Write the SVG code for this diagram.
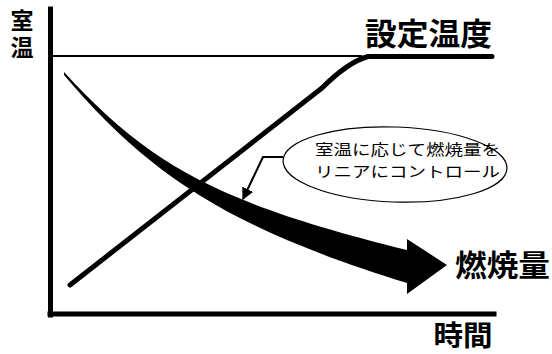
<svg xmlns="http://www.w3.org/2000/svg" width="552" height="354" viewBox="0 0 552 354">
<style>
.lbl{font-family:"Noto Sans CJK JP","Noto Sans CJK SC",sans-serif;font-weight:bold;fill:#000}
.note{font-family:"Noto Sans CJK JP","Noto Sans CJK SC",sans-serif;font-weight:normal;fill:#000;font-size:14.8px}
.ax{stroke:#000;fill:none;stroke-linecap:square}
</style>
<defs>
<marker id="ah" viewBox="0 0 10 10" refX="9" refY="5" markerWidth="6" markerHeight="6" orient="auto" markerUnits="strokeWidth">
<path d="M0,0 L10,5 L0,10 z" fill="#000"/>
</marker>
</defs>
<rect width="552" height="354" fill="#fff"/>
<g id="axes">
<line class="ax" x1="50.5" y1="9" x2="50.5" y2="315" stroke-width="5"/>
<line class="ax" x1="50" y1="314" x2="494" y2="314" stroke-width="5"/>
<text class="lbl" x="22" y="9" font-size="23" writing-mode="vertical-rl" letter-spacing="4">室温</text>
<text class="lbl" x="463" y="346" font-size="28" text-anchor="middle" textLength="59" lengthAdjust="spacingAndGlyphs">時間</text>
</g>
<g id="setpoint">
<line x1="52" y1="56" x2="362" y2="56" stroke="#000" stroke-width="1.8"/>
<text class="lbl" x="365" y="45" font-size="31" textLength="127" lengthAdjust="spacingAndGlyphs">設定温度</text>
</g>
<g id="room-temp">
<path d="M70,285 L322,88 Q348,62 368,56.5 L492,56.5" fill="none" stroke="#000" stroke-width="5" stroke-linecap="round" stroke-linejoin="round"/>
</g>
<g id="combustion">
<path d="M64,72 C151,167 219,203 407,250 L407,239 L447,265 L407,294 L407,283 C228,228 148,174 64,75 Z" fill="#000"/>
<text class="lbl" x="455" y="276" font-size="30" textLength="95" lengthAdjust="spacingAndGlyphs">燃焼量</text>
</g>
<g id="callout">
<ellipse cx="395" cy="164.5" rx="112" ry="37.5" fill="#fff" stroke="#000" stroke-width="1.2" transform="rotate(2 395 164.5)"/>
<text class="note" x="315" y="154.5" textLength="185" lengthAdjust="spacingAndGlyphs">室温に応じて燃焼量を</text>
<text class="note" x="315" y="176.5" textLength="185" lengthAdjust="spacingAndGlyphs">リニアにコントロール</text>
</g>
<g id="connectors">
<path d="M283,157 L263,157 L243,199" fill="none" stroke="#000" stroke-width="2" marker-end="url(#ah)"/>
</g>
</svg>
